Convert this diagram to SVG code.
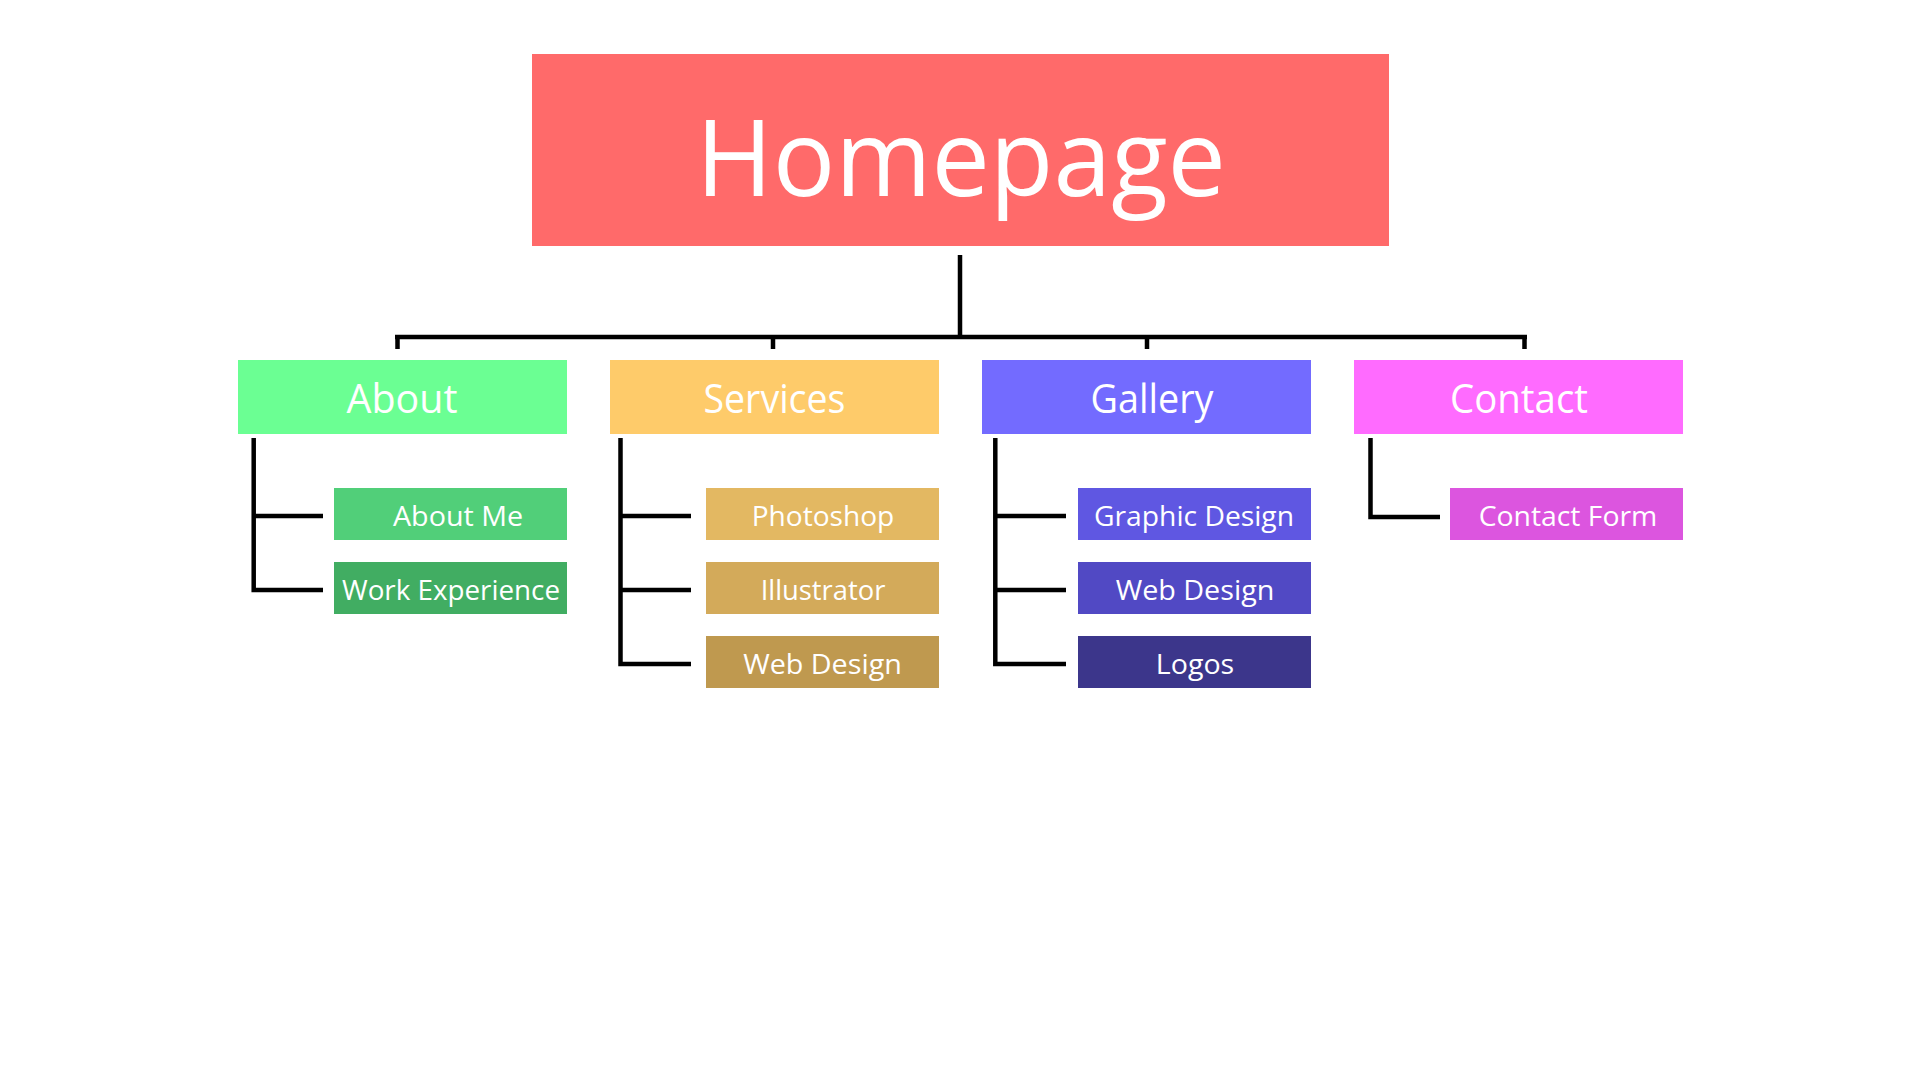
<svg xmlns="http://www.w3.org/2000/svg" width="1920" height="1080" viewBox="0 0 1920 1080">
<style>
text{font-family:"Open Sans","Noto Sans","Liberation Sans",sans-serif;fill:#fff;text-anchor:middle}
.t1{font-size:40px}
.t2{font-size:28px}
.ln{fill:none;stroke:#000;stroke-width:4.5;stroke-linecap:butt;stroke-linejoin:miter}
</style>
<rect width="1920" height="1080" fill="#fff"/>
<g id="connectors">
<path class="ln" d="M960 255V337M395 337H1527M397.5 337V349M773 337V349M1147 337V349M1524.5 337V349"/>
<path class="ln" d="M253.7 438V590H323M253.7 516H323"/>
<path class="ln" d="M620.5 438V664H691M620.5 516H691M620.5 590H691"/>
<path class="ln" d="M995.3 438V664H1066M995.3 516H1066M995.3 590H1066"/>
<path class="ln" d="M1370.5 438V517H1440"/>
</g>
<g id="homepage"><rect x="532" y="54" width="857" height="192" fill="#FF6A6A"/><text x="961" y="196" style="font-size:107px" textLength="530" lengthAdjust="spacingAndGlyphs">Homepage</text></g>
<g id="about"><rect x="238" y="360" width="329" height="74" fill="#6BFF93"/><text class="t1" x="402" y="413" textLength="111" lengthAdjust="spacingAndGlyphs">About</text></g>
<g id="services"><rect x="610" y="360" width="329" height="74" fill="#FECB6A"/><text class="t1" x="774.5" y="413" textLength="142" lengthAdjust="spacingAndGlyphs">Services</text></g>
<g id="gallery"><rect x="982" y="360" width="329" height="74" fill="#736BFF"/><text class="t1" x="1152" y="413" textLength="123" lengthAdjust="spacingAndGlyphs">Gallery</text></g>
<g id="contact"><rect x="1354" y="360" width="329" height="74" fill="#FF6BFF"/><text class="t1" x="1519" y="413" textLength="138" lengthAdjust="spacingAndGlyphs">Contact</text></g>
<g id="about-me"><rect x="334" y="488" width="233" height="52" fill="#51CF79"/><text class="t2" x="458" y="526" textLength="130" lengthAdjust="spacingAndGlyphs">About Me</text></g>
<g id="work-experience"><rect x="334" y="562" width="233" height="52" fill="#41AD62"/><text class="t2" x="451" y="600" textLength="218" lengthAdjust="spacingAndGlyphs">Work Experience</text></g>
<g id="photoshop"><rect x="706" y="488" width="233" height="52" fill="#E3B862"/><text class="t2" x="823" y="526" textLength="142.6" lengthAdjust="spacingAndGlyphs">Photoshop</text></g>
<g id="illustrator"><rect x="706" y="562" width="233" height="52" fill="#D3AA5A"/><text class="t2" x="823" y="600" textLength="124.7" lengthAdjust="spacingAndGlyphs">Illustrator</text></g>
<g id="web-design-s"><rect x="706" y="636" width="233" height="52" fill="#BF994F"/><text class="t2" x="822.5" y="674" textLength="158.7" lengthAdjust="spacingAndGlyphs">Web Design</text></g>
<g id="graphic-design"><rect x="1078" y="488" width="233" height="52" fill="#5F57E2"/><text class="t2" x="1194" y="526" textLength="200" lengthAdjust="spacingAndGlyphs">Graphic Design</text></g>
<g id="web-design-g"><rect x="1078" y="562" width="233" height="52" fill="#5149C4"/><text class="t2" x="1195" y="600" textLength="158.7" lengthAdjust="spacingAndGlyphs">Web Design</text></g>
<g id="logos"><rect x="1078" y="636" width="233" height="52" fill="#3C368B"/><text class="t2" x="1195" y="674" textLength="78.3" lengthAdjust="spacingAndGlyphs">Logos</text></g>
<g id="contact-form"><rect x="1450" y="488" width="233" height="52" fill="#DC55DF"/><text class="t2" x="1568" y="526" textLength="178.7" lengthAdjust="spacingAndGlyphs">Contact Form</text></g>
</svg>
